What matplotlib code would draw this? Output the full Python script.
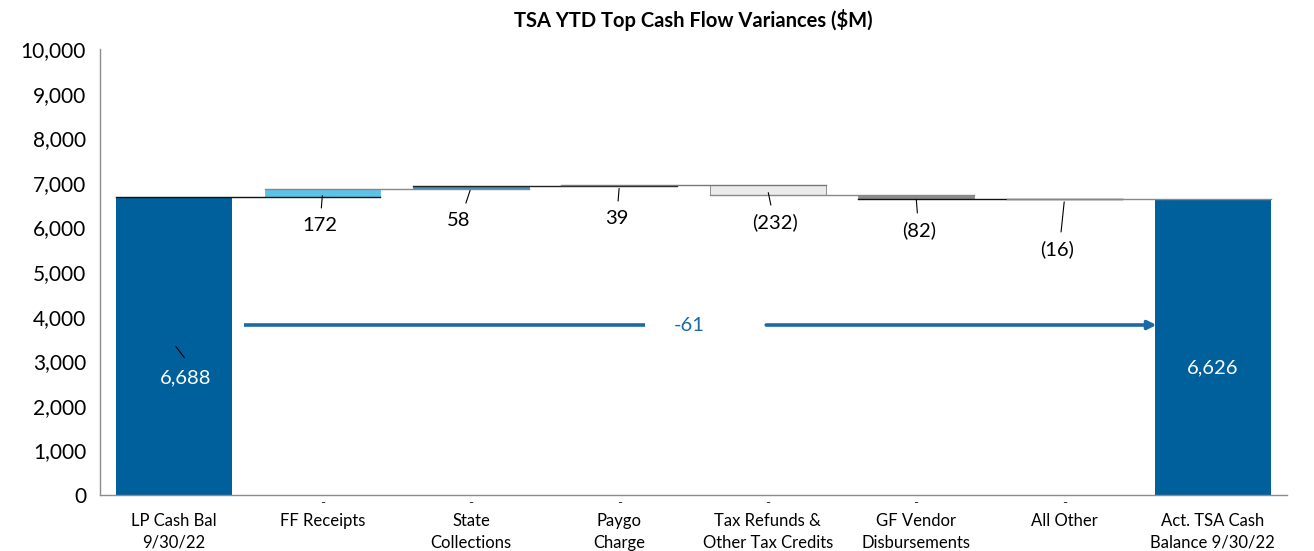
import matplotlib.pyplot as plt
from matplotlib.ticker import FuncFormatter

plt.rcParams['font.family'] = ['Lato', 'DejaVu Sans']

categories = ['LP Cash Bal\n9/30/22', 'FF Receipts', 'State\nCollections', 'Paygo\nCharge',
              'Tax Refunds &\nOther Tax Credits', 'GF Vendor\nDisbursements', 'All Other',
              'Act. TSA Cash\nBalance 9/30/22']
start_bal = 6688
deltas = [172, 58, 39, -232, -82, -16]
end_bal = 6626
net_change = -61

# where the value labels sit
label_y = [2623, 6054, 6166, 6210, 6121, 5942, 5516, 2848]
label_dx = [0.08, -0.02, -0.08, -0.02, 0.05, 0.02, -0.05, 0.0]

main_blue = '#00609C'
delta_colors = ['#5BC3E8', '#3D8FB8', '#1F6E9F', '#EBEBEB', '#8C8C8C', '#3A3A3A']
line_colors = ['#111111', '#888888', '#222222', '#777777', '#888888', '#111111', '#888888']

fig, ax = plt.subplots(figsize=(13.14, 5.51), dpi=100)
fig.subplots_adjust(left=0.0761, right=0.9795, bottom=0.1016, top=0.911)

w = 0.78
x = list(range(len(categories)))

# start and end bars
ax.bar(0, start_bal, width=w, color=main_blue, zorder=2)
ax.bar(7, end_bal, width=w, color=main_blue, zorder=2)

# floating bars
level = start_bal
levels = [start_bal]
for i, d in enumerate(deltas):
    bottom = level if d >= 0 else level + d
    ax.bar(i + 1, abs(d), bottom=bottom, width=w, color=delta_colors[i], zorder=2,
           edgecolor='#7F7F7F' if i == 3 else delta_colors[i], linewidth=0.6)
    level += d
    levels.append(level)

# connector lines
for i, lv in enumerate(levels):
    ax.plot([i - w / 2, i + 1 + w / 2], [lv, lv], color=line_colors[i], lw=1.0, zorder=3)

# value labels with leader lines
def fmt(v):
    return f'{v:,}' if v >= 0 else f'({abs(v):,})'

for i, d in enumerate(deltas):
    mid = (levels[i] + levels[i + 1]) / 2
    ly = label_y[i + 1]
    ax.annotate('', xy=(i + 1, mid), xytext=(i + 1 + label_dx[i + 1] * 0.5, ly + 320),
                arrowprops=dict(arrowstyle='-', color='black', lw=0.8), zorder=4)
    ax.text(i + 1 + label_dx[i + 1], ly, fmt(d), ha='center', va='center', fontsize=14.5, zorder=5)

ax.annotate('', xy=(0.0, 3380), xytext=(0.08, 3030),
            arrowprops=dict(arrowstyle='-', color='black', lw=0.8), zorder=4)
ax.text(0 + label_dx[0], label_y[0], f'{start_bal:,}', ha='center', va='center',
        fontsize=14.5, color='white', zorder=5)
ax.text(7 + label_dx[7], label_y[7], f'{end_bal:,}', ha='center', va='center',
        fontsize=14.5, color='white', zorder=5)

# net change arrow
arrow_y = 3812
ax.plot([0.47, 3.17], [arrow_y, arrow_y], color='#1C6AA4', lw=2.6, solid_capstyle='butt', zorder=3)
ax.annotate('', xy=(6.62, arrow_y), xytext=(3.99, arrow_y),
            arrowprops=dict(arrowstyle='-|>,head_length=0.5,head_width=0.25', color='#1C6AA4',
                            lw=2.6, shrinkA=0, shrinkB=0), zorder=3)
ax.text(3.47, arrow_y, str(net_change), ha='center', va='center', fontsize=14.5,
        color='#1C6AA4', zorder=5)

# zero-value dashes under the middle categories
for i in range(1, 7):
    ax.text(i, -50, '-', ha='center', va='top', fontsize=10, color='#333333')

ax.set_xlim(-0.5, 7.5)
ax.set_ylim(0, 10000)
ax.set_yticks(range(0, 10001, 1000))
ax.yaxis.set_major_formatter(FuncFormatter(lambda v, p: f'{int(v):,}'))
ax.set_xticks(x)
ax.set_xticklabels(categories, fontsize=12, linespacing=1.45)
ax.tick_params(axis='x', length=0, pad=13)
ax.tick_params(axis='y', length=0, labelsize=15, pad=10)
for s in ['top', 'right']:
    ax.spines[s].set_visible(False)
for s in ['left', 'bottom']:
    ax.spines[s].set_color('#8C8C8C')
    ax.spines[s].set_linewidth(1.0)

ax.set_title('TSA YTD Top Cash Flow Variances ($M)', fontsize=14.5, fontweight='bold', pad=16)

fig.savefig('out.png', dpi=100)
